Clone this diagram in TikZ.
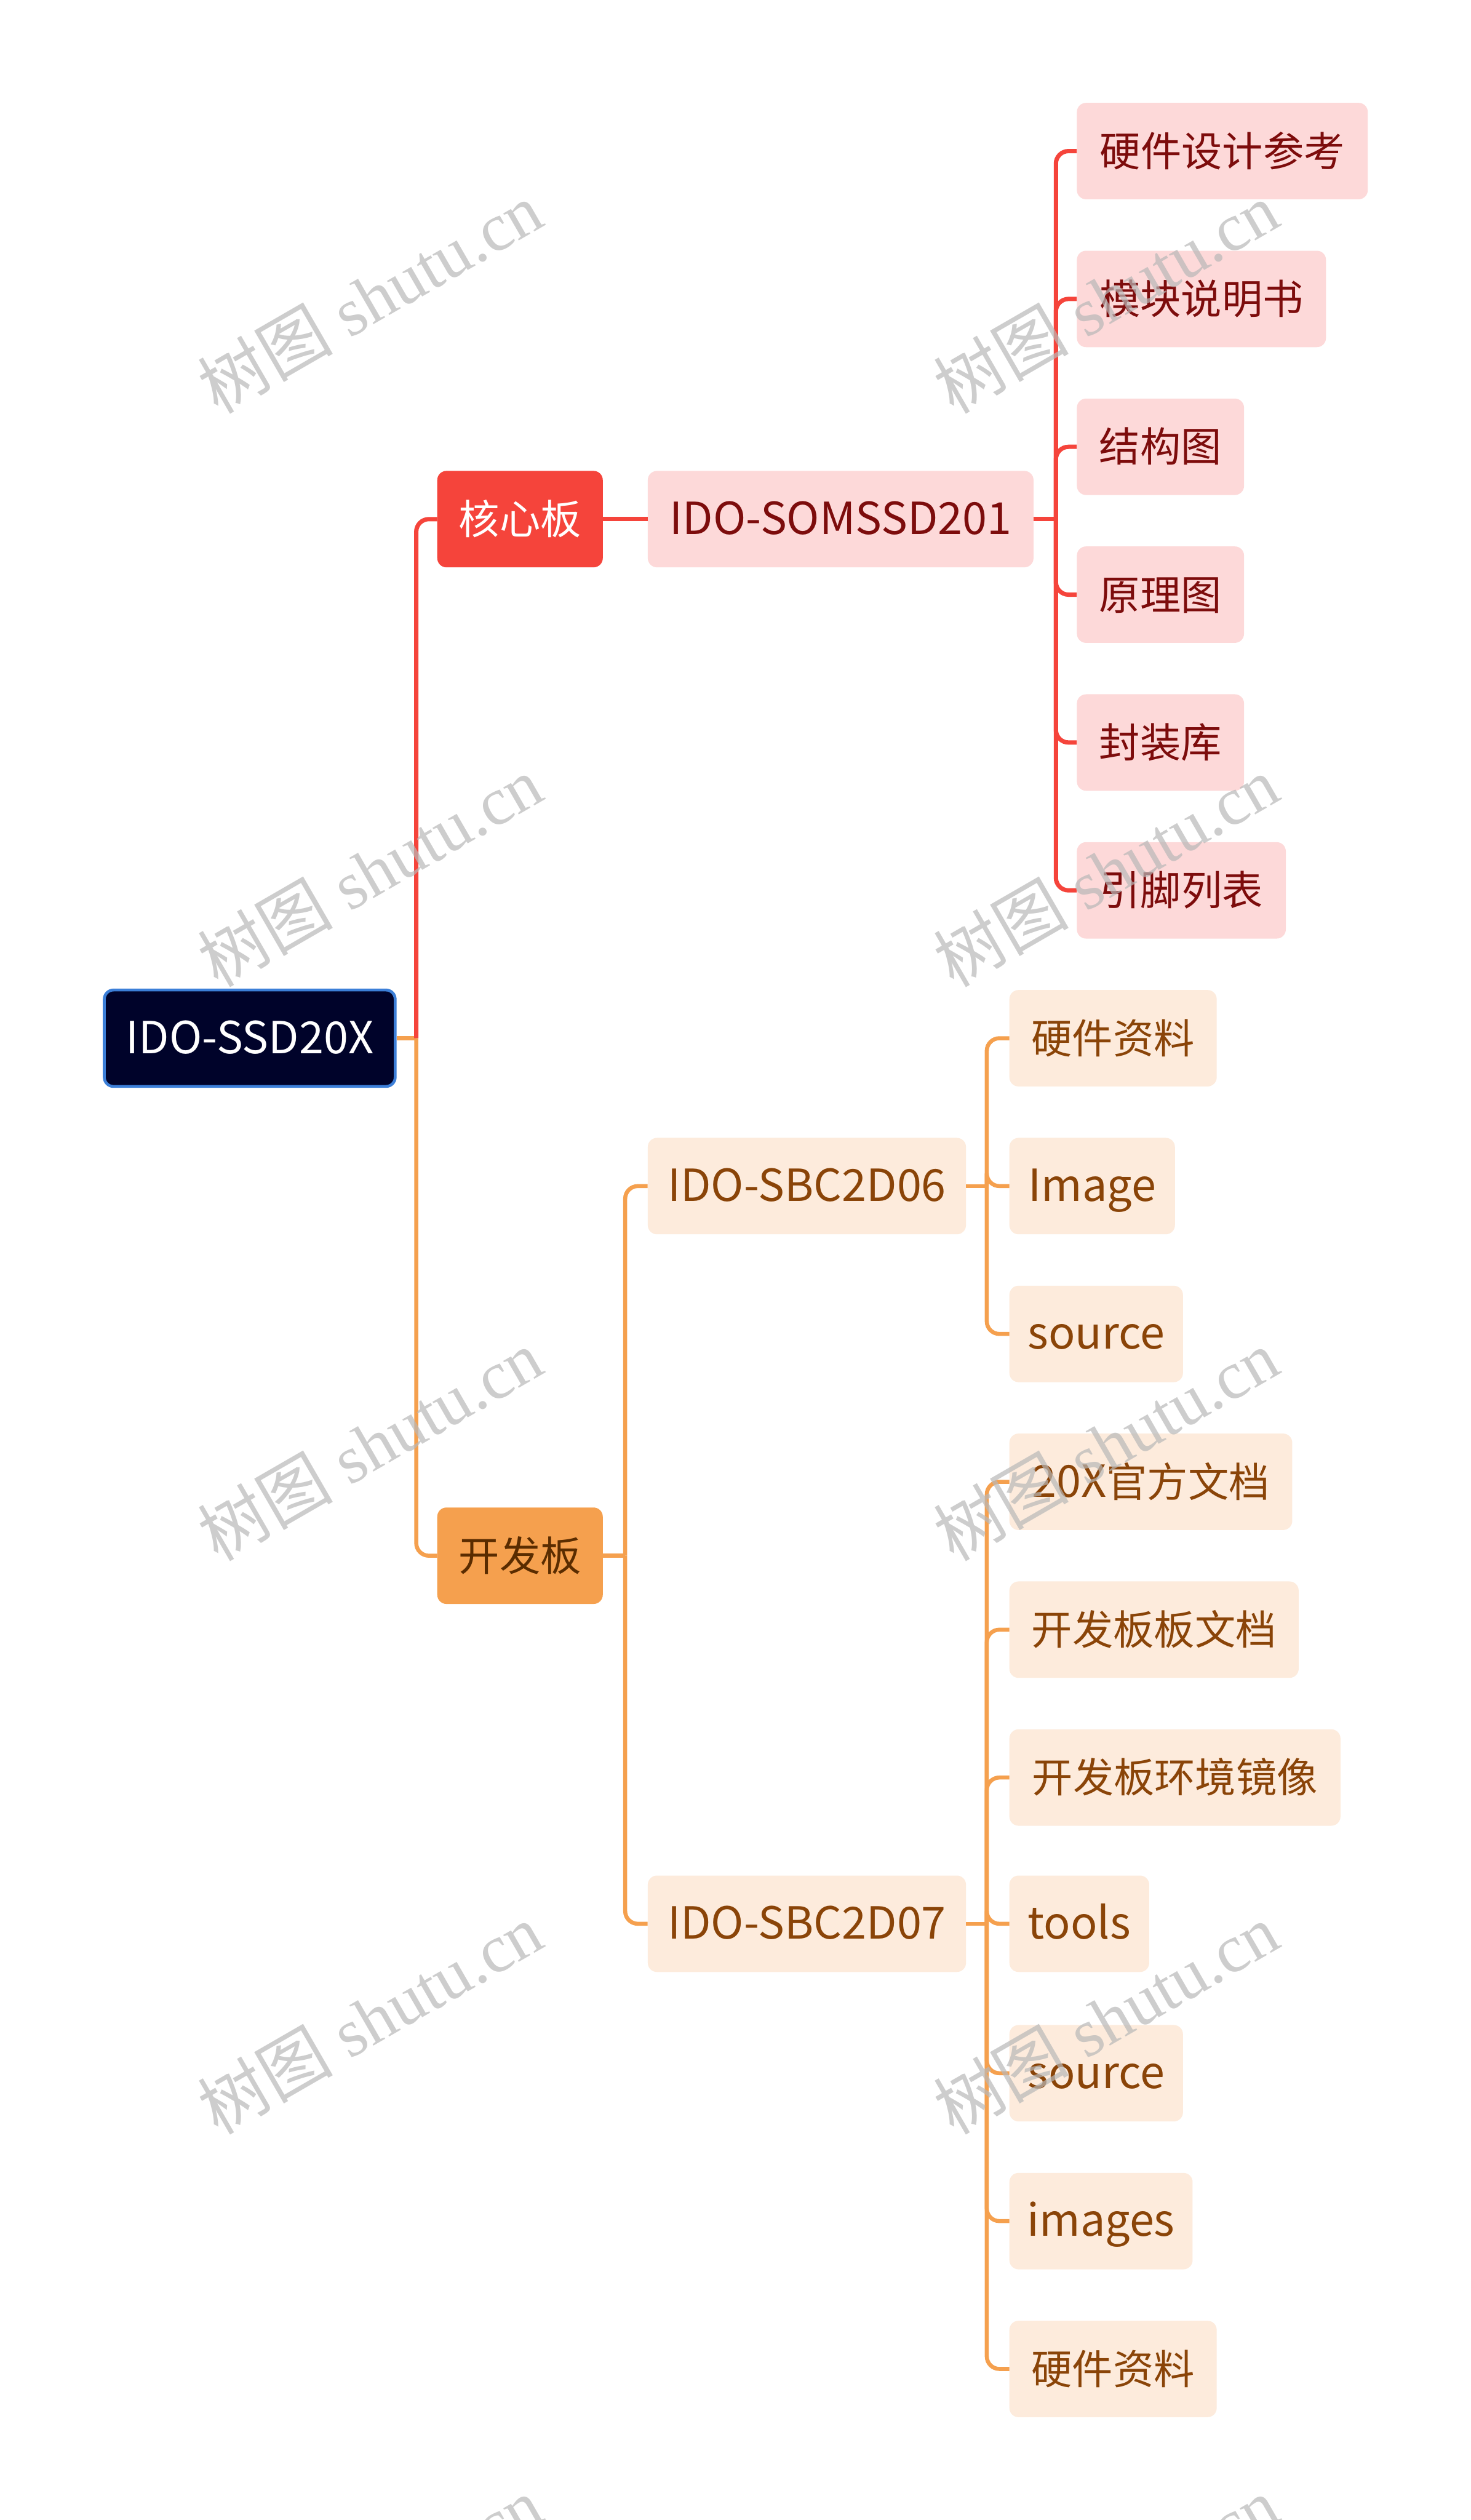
\documentclass[tikz,border=0pt]{standalone}
\usepackage{fontspec}
\setmainfont{Noto Sans CJK SC}
\newfontfamily\wmlat{Liberation Serif}
\newfontfamily\wmcjk{Noto Sans CJK SC}
\newcommand\biglat{\fontsize{77pt}{85pt}\selectfont}
\definecolor{navy}{HTML}{00032A}
\definecolor{rootborder}{HTML}{3C7FD8}
\definecolor{redline}{HTML}{F5443B}
\definecolor{pinkfill}{HTML}{FDD9D9}
\definecolor{redtext}{HTML}{7D0C0C}
\definecolor{orangeline}{HTML}{F5A04E}
\definecolor{orangefill}{HTML}{FDEBDC}
\definecolor{browntext}{HTML}{8A4408}
\definecolor{darkbrown}{HTML}{5A2C00}
\definecolor{wmgray}{HTML}{B8B8B8}
\begin{document}
\begin{tikzpicture}[x=2.798pt,y=-2.798pt,
  box/.style={rounded corners=16pt, minimum height=167.9pt, inner sep=0pt,
    anchor=west, font=\fontsize{71pt}{85pt}\selectfont, text height=62pt, text depth=9pt},
  bw/.style={minimum width=#1*2.798pt},
  rootbox/.style={box, fill=navy, draw=rootborder, line width=5pt, text=white},
  redmain/.style={box, fill=redline, text=white},
  orangemain/.style={box, fill=orangeline, text=darkbrown},
  redsub/.style={box, fill=pinkfill, text=redtext},
  orangesub/.style={box, fill=orangefill, text=browntext},
  redconn/.style={draw=redline, line width=7.5pt, rounded corners=22pt},
  orangeconn/.style={draw=orangeline, line width=7pt, rounded corners=22pt},
  wm/.style={text=wmgray, opacity=0.7, rotate=30, inner sep=0pt,
    font=\wmlat\fontsize{118pt}{130pt}\selectfont}
]
\useasboundingbox (0,0) rectangle (915,1568);
\fill[white] (0,0) rectangle (915,1568);

% nodes
\node[rootbox, bw=181] (root) at (64,646) {\biglat IDO-SSD20X};
\node[redmain, bw=103] (hx) at (272,323) {核心板};
\node[orangemain, bw=103] (kf) at (272,968) {开发板};
\node[redsub, bw=240] (som) at (403,323) {\biglat IDO-SOMSSD201};
\node[redsub, bw=181] (r1) at (670,94) {硬件设计参考};
\node[redsub, bw=155] (r2) at (670,186) {模块说明书};
\node[redsub, bw=104] (r3) at (670,278) {结构图};
\node[redsub, bw=104] (r4) at (670,370) {原理图};
\node[redsub, bw=104] (r5) at (670,462) {封装库};
\node[redsub, bw=130] (r6) at (670,554) {引脚列表};
\node[orangesub, bw=198] (d6) at (403,738) {\biglat IDO-SBC2D06};
\node[orangesub, bw=129] (a1) at (628,646) {硬件资料};
\node[orangesub, bw=103] (a2) at (628,738) {\biglat Image};
\node[orangesub, bw=108] (a3) at (628,830) {\biglat source};
\node[orangesub, bw=198] (d7) at (403,1197) {\biglat IDO-SBC2D07};
\node[orangesub, bw=176] (b1) at (628,922) {{\biglat 20X}官方文档};
\node[orangesub, bw=180] (b2) at (628,1014) {开发板板文档};
\node[orangesub, bw=206] (b3) at (628,1106) {开发板环境镜像};
\node[orangesub, bw=87] (b4) at (628,1197) {\biglat tools};
\node[orangesub, bw=108] (b5) at (628,1290) {\biglat source};
\node[orangesub, bw=114] (b6) at (628,1382) {\biglat images};
\node[orangesub, bw=129] (b7) at (628,1474) {硬件资料};

% bracket points
\coordinate (m0) at (259,646);
\coordinate (s0) at (657,323);
\coordinate (k0) at (389,968);
\coordinate (e6) at (614,738);
\coordinate (e7) at (614,1197);

% connectors
\draw[orangeconn] (root.east) -- (m0);
\draw[redconn] (m0) |- (hx.west);
\draw[orangeconn] (m0) |- (kf.west);
\draw[redconn] (hx.east) -- (som.west);
\draw[redconn] (som.east) -- (s0);
\foreach \c in {r1,r2,r3,r4,r5,r6} \draw[redconn] (s0) |- (\c.west);
\draw[orangeconn] (kf.east) -- (k0);
\draw[orangeconn] (k0) |- (d6.west);
\draw[orangeconn] (k0) |- (d7.west);
\draw[orangeconn] (d6.east) -- (e6);
\foreach \c in {a1,a2,a3} \draw[orangeconn] (e6) |- (\c.west);
\draw[orangeconn] (d7.east) -- (e7);
\foreach \c in {b1,b2,b3,b4,b5,b6,b7} \draw[orangeconn] (e7) |- (\c.west);

% watermarks
\foreach \wx in {230,688} {
  \foreach \wy in {185,542,899,1256,1613} {
    \node[wm] (w\wx\wy) at (\wx,\wy) {{\wmcjk 树图} shutu.cn};
  }
}
\end{tikzpicture}
\end{document}
